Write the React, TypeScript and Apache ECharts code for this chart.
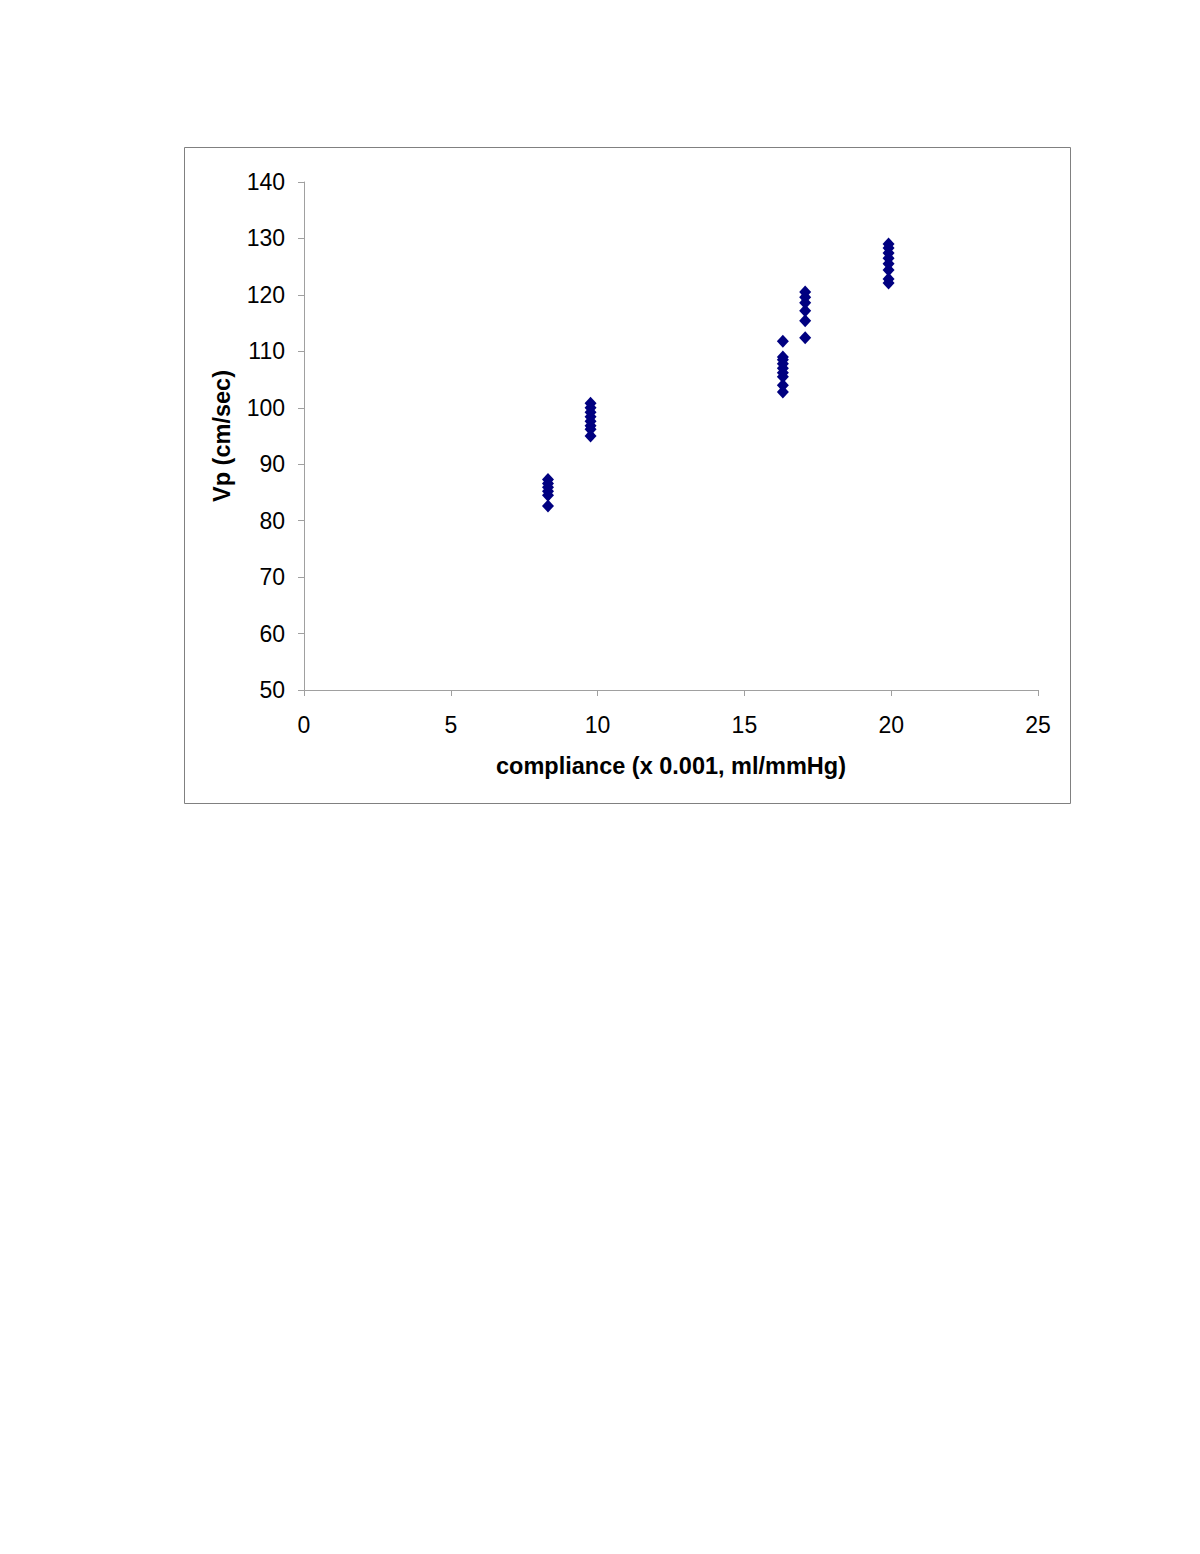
import React, { useEffect, useRef } from "react";
import * as echarts from "echarts";

const xGroups = [8.31, 9.76, 16.31, 17.07, 19.91];
const yGroup1 = [87.3, 86.6, 85.9, 85.2, 84.5, 82.6];
const yGroup2 = [100.8, 100.0, 99.2, 98.4, 97.6, 96.8, 96.2, 95.0];
const yGroup3 = [111.8, 109.0, 108.5, 107.8, 107.0, 106.2, 105.5, 104.0, 102.8];
const yGroup4 = [120.5, 119.6, 118.6, 117.2, 115.4, 112.4];
const yGroup5 = [129.0, 128.3, 127.4, 126.5, 125.5, 124.4, 122.8, 122.1];
const yGroups = [yGroup1, yGroup2, yGroup3, yGroup4, yGroup5];

export default function App() {
  const ref = useRef<HTMLDivElement>(null);
  useEffect(() => {
    document.body.style.margin = "0";
    const chart = echarts.init(ref.current!, null, { renderer: "svg" });
    const data: number[][] = [];
    yGroups.forEach((g, i) => g.forEach((v) => data.push([xGroups[i], v])));
    const font = "Liberation Sans, Arial, sans-serif";
    chart.setOption({
      animation: false,
      backgroundColor: "#ffffff",
      grid: { left: 304, top: 182, width: 734, height: 508 },
      graphic: [
        {
          type: "rect",
          shape: { x: 184.5, y: 147.5, width: 886, height: 656 },
          style: { fill: "none", stroke: "#808080", lineWidth: 1 },
          silent: true,
        },
      ],
      xAxis: {
        type: "value",
        min: 0,
        max: 25,
        interval: 5,
        name: "compliance (x 0.001, ml/mmHg)",
        nameLocation: "middle",
        nameGap: 64,
        nameTextStyle: { fontFamily: font, fontSize: 23.5, fontWeight: "bold", color: "#000" },
        axisLine: { lineStyle: { color: "#a0a0a0", width: 1 } },
        axisTick: { show: true, length: 6, inside: false, lineStyle: { color: "#a0a0a0" } },
        axisLabel: { margin: 23, fontFamily: font, fontSize: 23, color: "#000" },
        splitLine: { show: false },
      },
      yAxis: {
        type: "value",
        min: 50,
        max: 140,
        interval: 10,
        name: "Vp (cm/sec)",
        nameLocation: "middle",
        nameGap: 70,
        nameRotate: 90,
        nameTextStyle: { fontFamily: font, fontSize: 23.5, fontWeight: "bold", color: "#000" },
        axisLine: { show: true, lineStyle: { color: "#a0a0a0", width: 1 } },
        axisTick: { show: true, length: 6, inside: false, lineStyle: { color: "#a0a0a0" } },
        axisLabel: { margin: 19, fontFamily: font, fontSize: 23, color: "#000" },
        splitLine: { show: false },
      },
      series: [
        {
          type: "scatter",
          data,
          symbol: "diamond",
          symbolSize: [12, 13],
          itemStyle: { color: "#000080", opacity: 1 },
        },
      ],
    });
    return () => chart.dispose();
  }, []);
  return <div ref={ref} style={{ width: 1200, height: 1554 }} />;
}
